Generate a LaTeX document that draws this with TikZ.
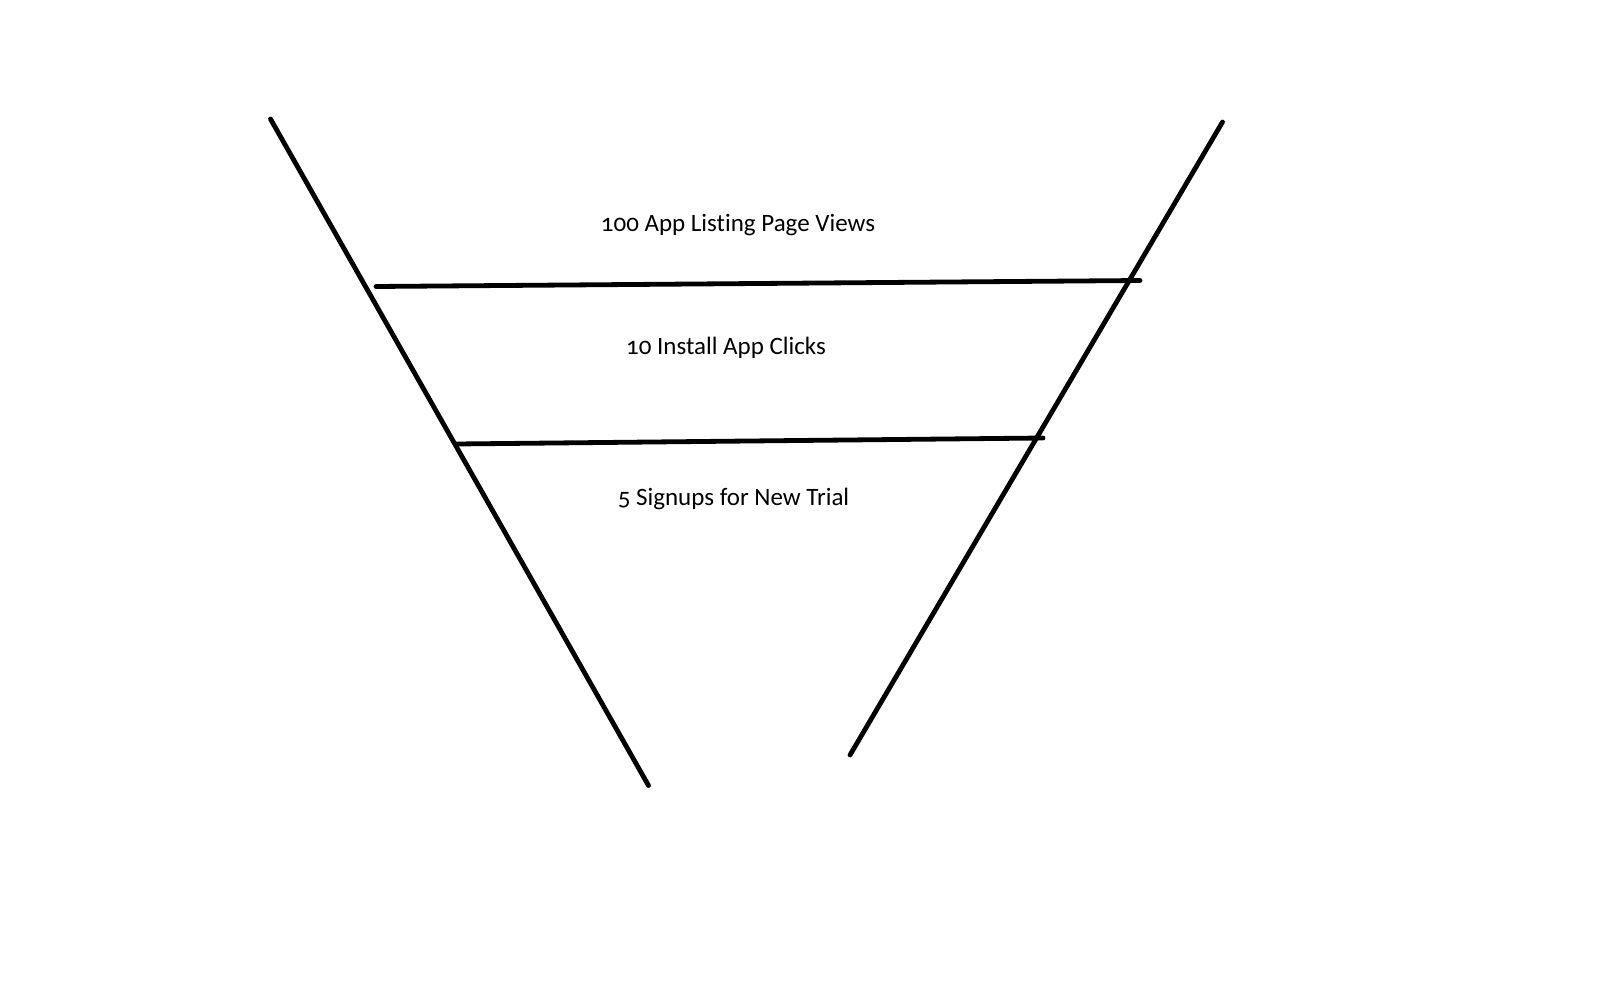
\documentclass[tikz,border=0pt]{standalone}
\usepackage{fontspec}
\setmainfont{Carlito}[Numbers=OldStyle,Ligatures=NoCommon]
\begin{document}
\begin{tikzpicture}[x=1pt,y=-1pt,
  stroke/.style={line width=4.8pt,line cap=round,black},
  label/.style={anchor=base,inner sep=0pt,font=\fontsize{25}{30}\selectfont}]
\useasboundingbox[fill=white] (0,0) rectangle (1600,992);
% funnel sides
\coordinate (lt) at (270.5,119);
\coordinate (lb) at (648.5,785.5);
\coordinate (rt) at (1222.5,122);
\coordinate (rb) at (850,755);
% stage dividers
\coordinate (a1) at (376,286.5);
\coordinate (a2) at (1140,280.5);
\coordinate (b1) at (456,444);
\coordinate (b2) at (1043,438);
\draw[stroke] (lt) -- (lb);
\draw[stroke] (rt) -- (rb);
\draw[stroke] (a1) -- (a2);
\draw[stroke] (b1) -- (b2);
% stage labels
\node[label] (s1) at (738,232) {100 App Listing Page Views};
\node[label] (s2) at (726,354.5) {10 Install App Clicks};
\node[label] (s3) at (733.5,505) {5 Signups for New Trial};
\end{tikzpicture}
\end{document}
